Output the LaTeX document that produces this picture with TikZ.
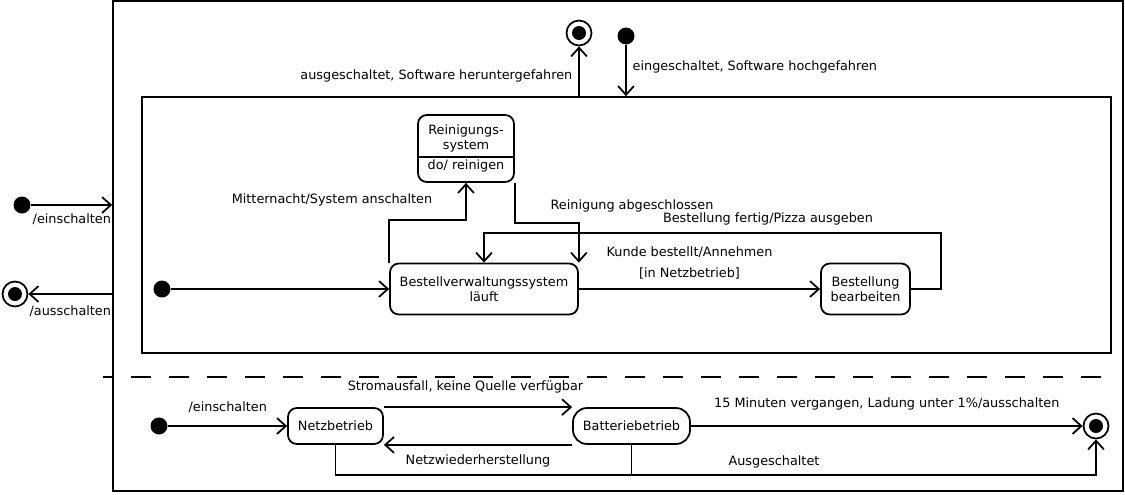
\documentclass[tikz,border=0pt]{standalone}
\usepackage{fontspec}
\setmainfont{DejaVu Sans}
\usetikzlibrary{positioning,arrows.meta}

\begin{document}
\begin{tikzpicture}[
    x=0.02cm, y=-0.02cm,
    line width=1pt,
    font=\fontsize{7.3}{8.6}\selectfont,
    statebox/.style={rectangle, draw, rounded corners=5pt, align=center, minimum height=1.02cm},
    framebox/.style={rectangle, draw},
    startdot/.style={circle, fill=black, inner sep=0pt, minimum size=0.34cm},
    enddot/.style={circle, draw, fill=white, inner sep=0pt, minimum size=0.5cm,
        path picture={\fill[black] (path picture bounding box.center) circle (0.14cm);}},
    arrow/.style={-{Straight Barb[length=5pt,width=9pt]}}
]
\useasboundingbox (0,0) rectangle (1125,494);

% frames
\node[framebox, minimum width=20.2cm, minimum height=9.8cm] (outer) at (618,246) {};
\node[framebox, minimum width=19.38cm, minimum height=5.12cm] (inner) at (626.5,225) {};

% entry and exit of the composite state
\node[enddot] (topend) at (579,33) {};
\node[startdot] (topstart) at (626,36) {};
\draw[arrow] (inner.north -| topend) -- node[pos=0.4, left] {ausgeschaltet, Software heruntergefahren} (topend);
\draw[arrow] (topstart) -- node[pos=0.42, right] {eingeschaltet, Software hochgefahren} (topstart |- inner.north);

\node[startdot] (leftstart) at (22,205) {};
\node[enddot] (leftend) at (15,294) {};
\draw[arrow] (leftstart) -- node[below=1pt] {/einschalten} (leftstart -| outer.west);
\draw[arrow] (leftend -| outer.west) -- node[below=3pt] {/ausschalten} (leftend);

% upper region
\node[statebox, minimum width=1.92cm, minimum height=1.34cm] (clean) at (466,148.5) {Reinigungs-\\system\\[3pt]do/ reinigen};
\draw (clean.west |- 0,157) -- (clean.east |- 0,157);
\node[startdot] (innerstart) at (162,289) {};
\node[statebox, minimum width=3.76cm] (orders) at (484,289) {Bestellverwaltungssystem\\läuft};
\node[statebox, minimum width=1.78cm] (process) at (865.5,289) {Bestellung\\bearbeiten};

\draw[arrow] (innerstart) -- (orders);
\draw[arrow] (orders.north west) -- ++(0,-43) -| (clean.south);
\node (midnight) at (332,200) {Mitternacht/System anschalten};
\draw[arrow] (clean.south east) -- ++(0,40) -| (orders.north east);
\node (cleandone) at (632,206) {Reinigung abgeschlossen};
\draw[arrow] (orders) -- node[above=2pt, xshift=-0.2cm, align=center] {Kunde bestellt/Annehmen\\[3pt]{[in Netzbetrieb]}} (process);
\draw[arrow] (process.east) -- ++(30,0) -- ++(0,-56) -| (orders.north);
\node (ready) at (768,219) {Bestellung fertig/Pizza ausgeben};

% region separator
\draw[dash pattern=on 0.4cm off 0.36cm, dash phase=0.2cm] (103,377) -- (1113,377);

% lower region
\node[startdot] (netstart) at (159,426) {};
\node[statebox, minimum width=1.9cm, minimum height=0.72cm] (net) at (335.5,426) {Netzbetrieb};
\node[statebox, minimum width=2.34cm, minimum height=0.72cm, rounded corners=8pt] (battery) at (631.5,426) {Batteriebetrieb};
\node[enddot] (offend) at (1096,426) {};

\draw[arrow] (netstart) -- node[above=4pt] {/einschalten} (net);
\draw[arrow] (net.north east) -- node[above=4pt, xshift=-0.25cm] {Stromausfall, keine Quelle verfügbar} (battery.north west);
\draw[arrow] (battery.south west) -- node[below=2pt] {Netzwiederherstellung} (net.south east);
\draw[arrow] (battery) -- node[above=5pt] {15 Minuten vergangen, Ladung unter 1\%/ausschalten} (offend);
\draw[arrow] (net.south) -- ++(0,30) -| (offend.south);
\draw (battery.south) -- ++(0,30);
\node (switchedoff) at (774,462) {Ausgeschaltet};

\end{tikzpicture}
\end{document}
